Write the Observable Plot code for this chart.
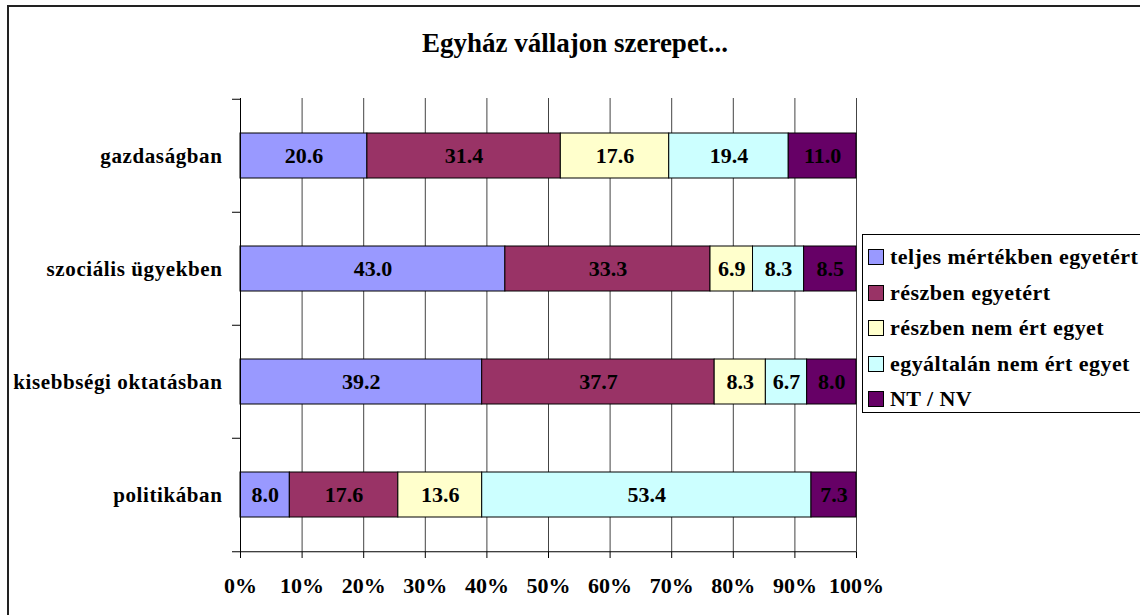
<!DOCTYPE html>
<html>
<head>
<meta charset="utf-8">
<script src="https://cdn.jsdelivr.net/npm/d3@7"></script>
<script src="https://cdn.jsdelivr.net/npm/@observablehq/plot@0.6"></script>
<style>
  html, body { margin: 0; padding: 0; background: #fff; }
  body { width: 1140px; height: 615px; overflow: hidden; position: relative; font-family: "Liberation Serif", "Tinos", "Times New Roman", "DejaVu Serif", serif; }
  #frame { position: absolute; left: 7px; top: 5px; width: 1200px; height: 700px; border-left: 2px solid #222; border-top: 2px solid #222; box-sizing: border-box; }
  #title { position: absolute; left: 0; width: 1150px; top: 28px; text-align: center; font-weight: bold; font-size: 27px; color: #000; }
  #chart { position: absolute; left: 0; top: 0; }
  #chart svg g[aria-label="y-axis tick label"] text { letter-spacing: 0.6px; }
  #legend { position: absolute; left: 862px; top: 234px; width: 320px; height: 179px; border: 1px solid #000; box-sizing: border-box; background: #fff; }
  .item { position: absolute; left: 5px; height: 24px; display: flex; align-items: center; font-weight: bold; font-size: 22px; letter-spacing: 0.45px; white-space: nowrap; }
  .sw { width: 14px; height: 14px; border: 1px solid #000; margin-right: 6px; flex: none; }
</style>
</head>
<body>
<div id="frame"></div>
<div id="chart"></div>
<div id="title">Egyház vállajon szerepet...</div>
<div id="legend"></div>
<script>
const categories = ["gazdaságban", "szociális ügyekben", "kisebbségi oktatásban", "politikában"];
const seriesNames = ["teljes mértékben egyetért", "részben egyetért", "részben nem ért egyet", "egyáltalán nem ért egyet", "NT / NV"];
const colors = ["#9999FF", "#993366", "#FFFFCC", "#CCFFFF", "#660066"];
const teljes = [20.6, 43.0, 39.2, 8.0];
const reszben = [31.4, 33.3, 37.7, 17.6];
const reszbenNem = [17.6, 6.9, 8.3, 13.6];
const egyaltalan = [19.4, 8.3, 6.7, 53.4];
const ntnv = [11.0, 8.5, 8.0, 7.3];
const xTicks = [0, 0.1, 0.2, 0.3, 0.4, 0.5, 0.6, 0.7, 0.8, 0.9, 1.0];

const seriesValues = [teljes, reszben, reszbenNem, egyaltalan, ntnv];
const data = [];
seriesNames.forEach((s, i) => categories.forEach((c, j) => data.push({cat: c, series: s, value: seriesValues[i][j]})));

const W = 1140, H = 615;
const mL = 240, mR = 284, mT = 98, mB = 63;
const step = (H - mT - mB) / categories.length;
const tickLen = 8 / (W - mL - mR);
const font = "'Liberation Serif', Tinos, 'Times New Roman', 'DejaVu Serif', serif";

const chart = Plot.plot({
  width: W, height: H,
  marginLeft: mL, marginRight: mR, marginTop: mT, marginBottom: mB,
  style: {fontFamily: font, background: "transparent", overflow: "visible"},
  x: {domain: [0, 1]},
  y: {domain: categories, paddingInner: 0.6, paddingOuter: 0.3},
  color: {domain: seriesNames, range: colors},
  marks: [
    Plot.ruleX(xTicks.slice(1), {stroke: "#444", strokeWidth: 1}),
    Plot.barX(data, Plot.stackX({x: "value", y: "cat", fill: "series", offset: "normalize", stroke: "#000", strokeWidth: 1, inset: 0})),
    Plot.text(data, Plot.stackX({x: "value", y: "cat", z: "series", offset: "normalize", text: d => d.value.toFixed(1), fill: "#000", fontSize: 22, fontWeight: "bold", fontFamily: font})),
    Plot.ruleX([0], {stroke: "#000", strokeWidth: 1}),
    Plot.ruleY(categories, {y: d => d, x1: -tickLen, x2: 0, dy: -step / 2, stroke: "#000"}),
    Plot.ruleY([categories[categories.length - 1]], {y: d => d, x1: -tickLen, x2: 1, dy: step / 2, stroke: "#000"}),
    Plot.axisY({tickSize: 0, tickPadding: 18, label: null, fontSize: 21, fontWeight: "bold", fill: "#000", fontFamily: font}),
    Plot.axisX({ticks: xTicks, tickFormat: d3.format(".0%"), tickSize: 6, tickPadding: 19, label: null, fontSize: 22, fontWeight: "bold", fill: "#000", stroke: "#000", fontFamily: font})
  ]
});
chart.style.fontWeight = "bold";
document.getElementById("chart").appendChild(chart);

const legend = document.getElementById("legend");
seriesNames.forEach((s, i) => {
  const item = document.createElement("div");
  item.className = "item";
  item.style.top = (10 + i * 35.6) + "px";
  const sw = document.createElement("span");
  sw.className = "sw";
  sw.style.background = colors[i];
  const t = document.createElement("span");
  t.textContent = s;
  item.appendChild(sw); item.appendChild(t);
  legend.appendChild(item);
});
</script>
</body>
</html>
